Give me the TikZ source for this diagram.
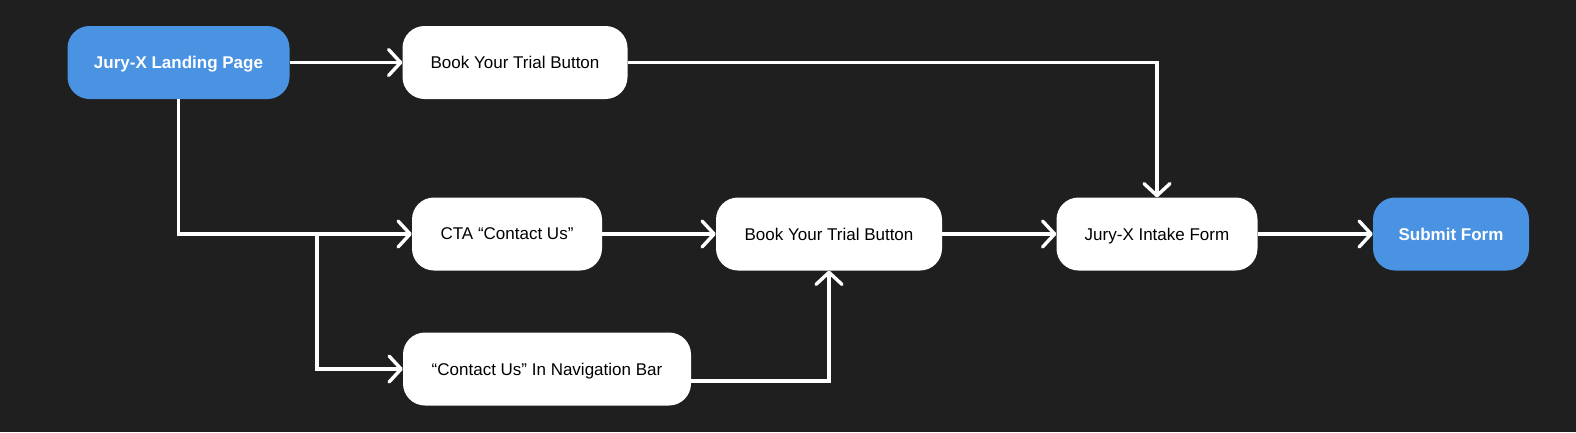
\documentclass[tikz,border=0pt]{standalone}
\usepackage{fontspec}
\setmainfont{Liberation Sans}
\usepackage{xcolor}
\usetikzlibrary{arrows.meta, positioning, calc}
\definecolor{bgdark}{RGB}{31, 31, 31}
\definecolor{mainblue}{RGB}{74, 146, 226}

\begin{document}
\begin{tikzpicture}[x=1pt, y=-1pt,
    box/.style={draw=none, fill=white, rounded corners=22pt, minimum height=73pt,
      inner sep=0pt, text depth=0pt, font=\fontsize{17}{20}\selectfont, text=black},
    bluebox/.style={box, fill=mainblue, text=white, font=\fontsize{17}{20}\selectfont\bfseries},
    flow/.style={draw=white, line width=3.4pt,
      -{Straight Barb[round, length=12pt, width=26pt]}}]
  % ── Background ────────────────────────────────────────────────────────────
  \fill[bgdark] (0, 0) rectangle (1576, 432);
  \useasboundingbox (0, 0) rectangle (1576, 432);

  % ── Nodes ─────────────────────────────────────────────────────────────────
  \node[bluebox, minimum width=222pt] (landing) at (178.5, 62.5) {Jury-X Landing Page};
  \node[box, minimum width=225pt]     (trialtop) at (515, 62.5)  {Book Your Trial Button};
  \node[box, minimum width=190pt]     (cta)      at (507, 234)   {CTA “Contact Us”};
  \node[box, minimum width=226pt]     (trialmid) at (829, 234)   {Book Your Trial Button};
  \node[box, minimum width=201pt]     (intake)   at (1157, 234)  {Jury-X Intake Form};
  \node[bluebox, minimum width=156pt] (submit)   at (1451, 234)  {Submit Form};
  \node[box, minimum width=288pt]     (navbar)   at (547, 369)   {“Contact Us” In Navigation Bar};

  % ── Fork points ───────────────────────────────────────────────────────────
  \coordinate (fork) at (317, 234);
  \coordinate (navout) at ($(navbar.east) + (0, 12)$);

  % ── Connectors ────────────────────────────────────────────────────────────
  \draw[flow] (landing) -- (trialtop);
  \draw[flow] (landing.south) |- (cta.west);
  \draw[flow] (fork) |- (navbar.west);
  \draw[flow] (trialtop.east) -| (intake.north);
  \draw[flow] (cta) -- (trialmid);
  \draw[flow] (navout) -| (trialmid.south);
  \draw[flow] (trialmid) -- (intake);
  \draw[flow] (intake) -- (submit);
\end{tikzpicture}
\end{document}
